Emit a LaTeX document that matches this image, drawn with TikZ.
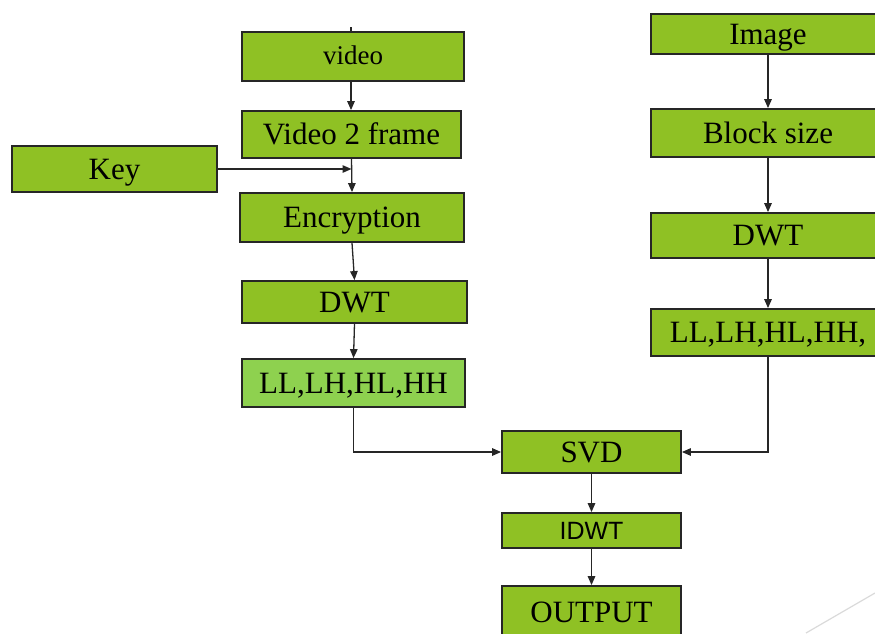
\documentclass[tikz,border=0pt]{standalone}
\usepackage{fontspec}
\setmainfont{Liberation Serif}
\newfontfamily\boxsans{Liberation Sans}
\usetikzlibrary{arrows.meta}
\definecolor{leaf}{HTML}{8FC124}
\definecolor{leaflight}{HTML}{8ED14F}
\definecolor{faint}{HTML}{DADADA}
\tikzset{
  blk/.style={draw=black!85, line width=1.8pt, fill=leaf, inner sep=0pt,
    font=\fontsize{31}{36}\selectfont, text=black,
    text height=20.5pt, text depth=0pt},
  arr/.style={line width=1.3pt, black!85,
    -{Triangle[length=9pt,width=7.5pt]}},
  plain/.style={line width=1.3pt, black!85}
}
\begin{document}
\begin{tikzpicture}[x=1pt,y=-1pt]
\useasboundingbox (0,0) rectangle (875,633);
\clip (0,0) rectangle (875,633);

% left column: video branch
\node[blk, minimum width=222pt, minimum height=49pt,
  font=\fontsize{27}{32}\selectfont, text height=16pt] (video) at (353,56.5) {video};
\node[blk, minimum width=219pt, minimum height=47pt] (v2f) at (351.5,134.5) {Video 2 frame};
\node[blk, minimum width=205pt, minimum height=46pt] (key) at (114.5,169) {Key};
\node[blk, minimum width=224pt, minimum height=49pt] (enc) at (352,217.5) {Encryption};
\node[blk, minimum width=225pt, minimum height=42pt] (dwtl) at (354.5,302) {DWT};
\node[blk, fill=leaflight, minimum width=223pt, minimum height=48pt] (bandl) at (353.5,383) {LL,LH,HL,HH};

% right column: image branch
\node[blk, minimum width=234pt, minimum height=40pt] (img) at (768,34) {Image};
\node[blk, minimum width=234pt, minimum height=48pt] (blocks) at (768,133) {Block size};
\node[blk, minimum width=234pt, minimum height=45pt] (dwtr) at (768,235.5) {DWT};
\node[blk, minimum width=234pt, minimum height=47pt] (bandr) at (768,332.5) {LL,LH,HL,HH,};

% merge and reconstruction
\node[blk, minimum width=179pt, minimum height=42pt] (svd) at (591.5,452) {SVD};
\node[blk, minimum width=179pt, minimum height=35pt,
  font=\boxsans\fontsize{25}{30}\selectfont, text height=17.5pt] (idwt) at (591.5,530.5) {IDWT};
\node[blk, minimum width=179pt, minimum height=52pt] (out) at (591.5,612) {OUTPUT};

% connectors
\coordinate (vin) at (351,27);
\draw[plain] (vin) -- (vin |- video.north);
\draw[arr] (vin |- video.south) -- (vin |- v2f.north);
\draw[arr] (v2f.south) -- (enc.north);
\draw[arr] (key.east) -- (key.east -| v2f.south);
\draw[arr] (enc.south) -- (dwtl.north);
\draw[arr] (dwtl.south) -- (bandl.north);
\draw[arr] (bandl.south) |- (svd.west);

\draw[arr] (img.south) -- (blocks.north);
\draw[arr] (blocks.south) -- (dwtr.north);
\draw[arr] (dwtr.south) -- (bandr.north);
\draw[arr] (bandr.south) |- (svd.east);

\draw[arr] (svd.south) -- (idwt.north);
\draw[arr] (idwt.south) -- (out.north);

% thin corner stroke
\coordinate (d1) at (806,633);
\coordinate (d2) at (875,593);
\draw[faint, line width=1.2pt] (d1) -- (d2);
\end{tikzpicture}
\end{document}
